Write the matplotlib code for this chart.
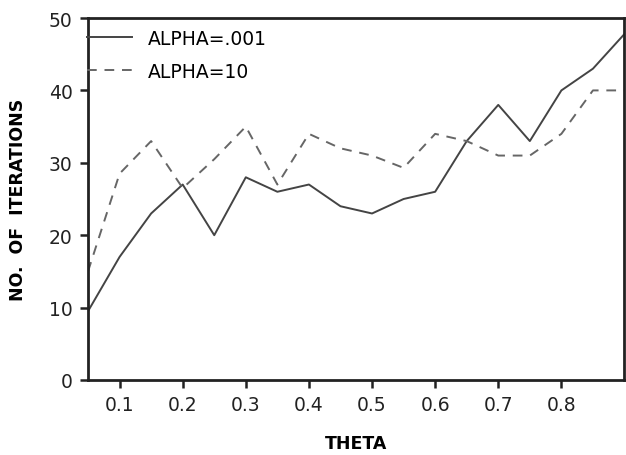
import matplotlib.pyplot as plt
import numpy as np

theta = [0.05, 0.10, 0.15, 0.20, 0.25, 0.30, 0.35, 0.40, 0.45,
         0.50, 0.55, 0.60, 0.65, 0.70, 0.75, 0.80, 0.85, 0.90]
iters_alpha_001 = [9.5, 17, 23, 27, 20, 28, 26, 27, 24,
                   23, 25, 26, 33, 38, 33, 40, 43, 47.8]
iters_alpha_10 = [15, 28.5, 33, 26.5, 30.5, 35, 27, 34, 32,
                  31, 29.3, 34, 33, 31, 31, 34, 40, 40]

xticks = [0.1, 0.2, 0.3, 0.4, 0.5, 0.6, 0.7, 0.8]
yticks = [0, 10, 20, 30, 40, 50]

plt.rcParams['font.family'] = ['DejaVu Sans']

fig = plt.figure(figsize=(6.26, 4.56), dpi=100)
ax = fig.add_axes([0.1406, 0.1645, 0.857, 0.7938])

ax.plot(theta, iters_alpha_001, color='#444444', lw=1.4, label='ALPHA=.001')
ax.plot(theta, iters_alpha_10, color='#666666', lw=1.4, dashes=(5, 4),
        label='ALPHA=10')

ax.set_xlim(0.05, 0.9)
ax.set_ylim(0, 50)
ax.set_xticks(xticks)
ax.set_xticklabels(['%.1f' % t for t in xticks])
ax.set_yticks(yticks)

for s in ax.spines.values():
    s.set_linewidth(2)
    s.set_color('#222222')
ax.tick_params(direction='out', length=6, width=1.8, labelsize=13.5,
               colors='#222222', pad=5)

ax.set_xlabel('THETA', fontsize=12.5, fontweight='bold', labelpad=14)
ax.set_ylabel('NO.  OF  ITERATIONS', fontsize=12.5, fontweight='bold',
              labelpad=16)

leg = ax.legend(loc='upper left', frameon=False, fontsize=13.5,
                handlelength=2.4, handletextpad=0.85, borderaxespad=0,
                borderpad=0, labelspacing=0.75,
                bbox_to_anchor=(-0.002, 0.97))

fig.savefig('out.png', dpi=100)
